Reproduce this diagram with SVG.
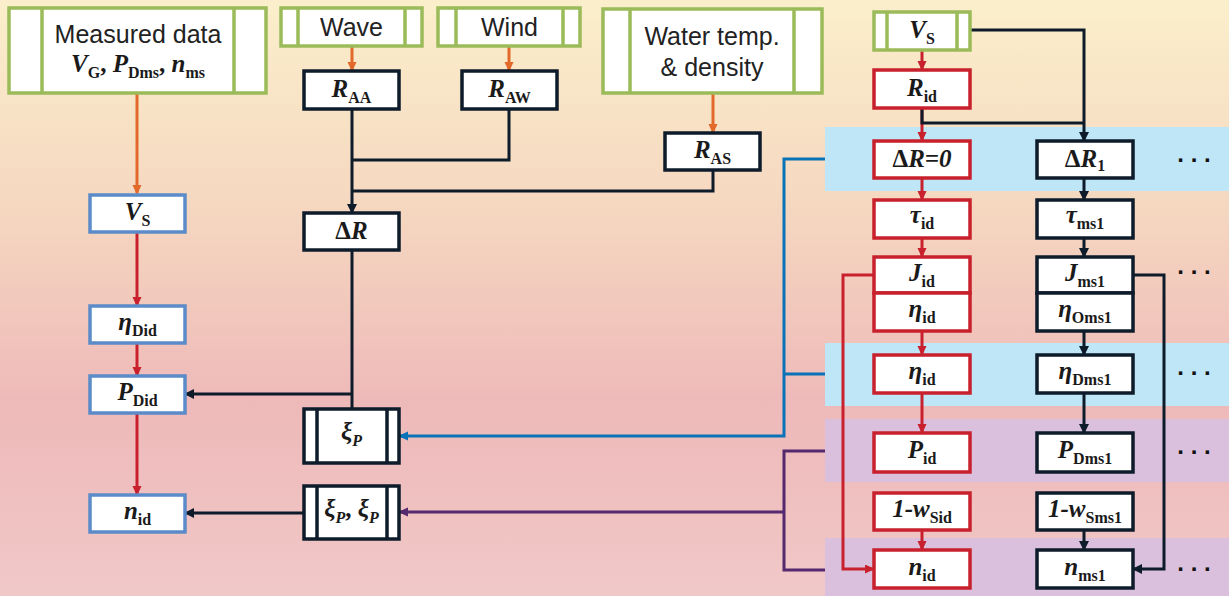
<svg xmlns="http://www.w3.org/2000/svg" width="1229" height="596" viewBox="0 0 1229 596">
<defs>
<linearGradient id="bg" x1="0" y1="0" x2="0" y2="1">
<stop offset="0" stop-color="#FBEFCB"/>
<stop offset="0.35" stop-color="#F5D7C0"/>
<stop offset="0.68" stop-color="#EEB9B9"/>
<stop offset="1" stop-color="#F1C8C8"/>
</linearGradient>
<marker id="aO" markerUnits="userSpaceOnUse" markerWidth="12" markerHeight="12" refX="8" refY="4.5" orient="auto"><path d="M0,0 L10,4.5 L0,9 z" fill="#E3692A"/></marker>
<marker id="aR" markerUnits="userSpaceOnUse" markerWidth="12" markerHeight="12" refX="8" refY="4.5" orient="auto"><path d="M0,0 L10,4.5 L0,9 z" fill="#C8202C"/></marker>
<marker id="aD" markerUnits="userSpaceOnUse" markerWidth="12" markerHeight="12" refX="8" refY="5" orient="auto"><path d="M0,0 L10,5 L0,10 z" fill="#0D1B2A"/></marker>
<marker id="aB" markerUnits="userSpaceOnUse" markerWidth="12" markerHeight="12" refX="8" refY="4.5" orient="auto"><path d="M0,0 L10,4.5 L0,9 z" fill="#0A72B6"/></marker>
<marker id="aP" markerUnits="userSpaceOnUse" markerWidth="12" markerHeight="12" refX="8" refY="4.5" orient="auto"><path d="M0,0 L10,4.5 L0,9 z" fill="#55296E"/></marker>
</defs>
<style>
.g{fill:#fff;stroke:#9BBB59;stroke-width:3.5}
.gl{stroke:#9BBB59;stroke-width:3.5}
.b{fill:#fff;stroke:#5B8BC8;stroke-width:3.5}
.r{fill:#fff;stroke:#C8202C;stroke-width:3.5}
.d{fill:#fff;stroke:#0D1B2A;stroke-width:3.5}
.dl{stroke:#0D1B2A;stroke-width:3.5}
.s{font-family:"Liberation Sans",Arial,sans-serif;font-size:25px;fill:#222;text-anchor:middle}
.m{font-family:"Liberation Serif","Times New Roman",serif;font-size:25px;font-weight:bold;fill:#1a1a1a;text-anchor:middle}
.i{font-style:italic}
.dots{font-family:"Liberation Sans",Arial,sans-serif;font-size:24px;font-weight:bold;fill:#111;text-anchor:middle}
.c{fill:none;stroke-width:3}
.co{stroke:#E3692A}
.cr{stroke:#C8202C}
.cd{stroke:#0D1B2A}
.cb{stroke:#0A72B6}
.cp{stroke:#55296E}
</style>
<rect x="0" y="0" width="1229" height="596" fill="url(#bg)"/>
<g id="bands">
<rect x="825" y="127" width="404" height="64" fill="#BEE6F7"/>
<rect x="825" y="343" width="404" height="63" fill="#BEE6F7"/>
<rect x="825" y="419" width="404" height="63" fill="#DAC0DC"/>
<rect x="825" y="538" width="404" height="58" fill="#DAC0DC"/>
</g>
<g id="connectors">
<path class="c co" d="M137,93 V193" marker-end="url(#aO)"/>
<path class="c co" d="M352,46 V70" marker-end="url(#aO)"/>
<path class="c co" d="M509,46 V70" marker-end="url(#aO)"/>
<path class="c co" d="M713,93 V132" marker-end="url(#aO)"/>
<path class="c cd" d="M352,109 V212" marker-end="url(#aD)"/>
<path class="c cd" d="M509,109 V160 H352"/>
<path class="c cd" d="M713,170 V191 H352"/>
<path class="c cd" d="M352,250 V409"/>
<path class="c cd" d="M352,394 H186" marker-end="url(#aD)"/>
<path class="c cd" d="M304,513 H186" marker-end="url(#aD)"/>
<path class="c cr" d="M137,232 V305" marker-end="url(#aR)"/>
<path class="c cr" d="M137,343 V375" marker-end="url(#aR)"/>
<path class="c cr" d="M137,413 V494" marker-end="url(#aR)"/>
<path class="c cb" d="M825,159 H784 V436 H400" marker-end="url(#aB)"/>
<path class="c cb" d="M825,374 H784"/>
<path class="c cp" d="M825,451 H784 V570 H825"/>
<path class="c cp" d="M784,512 H400" marker-end="url(#aP)"/>
<path class="c cr" d="M922,50 V69" marker-end="url(#aR)"/>
<path class="c cr" d="M922,108 V140" marker-end="url(#aR)"/>
<path class="c cr" d="M922,178 V199" marker-end="url(#aR)"/>
<path class="c cr" d="M922,238 V256" marker-end="url(#aR)"/>
<path class="c cr" d="M922,331 V354" marker-end="url(#aR)"/>
<path class="c cr" d="M922,393 V432" marker-end="url(#aR)"/>
<path class="c cr" d="M922,530 V549" marker-end="url(#aR)"/>
<path class="c cr" d="M874,275 H843 V569 H873" marker-end="url(#aR)"/>
<path class="c cd" d="M970,30 H1084 V140" marker-end="url(#aD)"/>
<path class="c cd" d="M922,108 V123 H1084"/>
<path class="c cd" d="M1084,178 V199" marker-end="url(#aD)"/>
<path class="c cd" d="M1084,238 V256" marker-end="url(#aD)"/>
<path class="c cd" d="M1084,331 V354" marker-end="url(#aD)"/>
<path class="c cd" d="M1084,393 V432" marker-end="url(#aD)"/>
<path class="c cd" d="M1084,530 V549" marker-end="url(#aD)"/>
<path class="c cd" d="M1133,275 H1164 V569 H1134" marker-end="url(#aD)"/>
</g>
<g id="measured">
<rect class="g" x="9" y="8" width="257" height="85"/>
<line class="gl" x1="42" y1="8" x2="42" y2="93"/><line class="gl" x1="234" y1="8" x2="234" y2="93"/>
<text class="s" x="138" y="43">Measured data</text>
<text class="m" x="138" y="72"><tspan class="i">V</tspan><tspan font-size="16" dy="6">G</tspan><tspan dy="-6">, </tspan><tspan class="i">P</tspan><tspan font-size="16" dy="6">Dms</tspan><tspan dy="-6">, </tspan><tspan class="i">n</tspan><tspan font-size="16" dy="6">ms</tspan></text>
</g>
<g id="wave">
<rect class="g" x="281" y="8" width="141" height="38"/>
<line class="gl" x1="298" y1="8" x2="298" y2="46"/><line class="gl" x1="405" y1="8" x2="405" y2="46"/>
<text class="s" x="351.5" y="36">Wave</text>
</g>
<g id="wind">
<rect class="g" x="438" y="8" width="142" height="38"/>
<line class="gl" x1="456" y1="8" x2="456" y2="46"/><line class="gl" x1="563" y1="8" x2="563" y2="46"/>
<text class="s" x="509.5" y="36">Wind</text>
</g>
<g id="water">
<rect class="g" x="603" y="9" width="219" height="84"/>
<line class="gl" x1="630" y1="9" x2="630" y2="93"/><line class="gl" x1="794" y1="9" x2="794" y2="93"/>
<text class="s" x="712" y="45">Water temp.</text>
<text class="s" x="712" y="76">&amp; density</text>
</g>
<g id="raa"><rect class="d" x="304" y="71" width="95" height="38"/>
<text class="m" x="351.5" y="97"><tspan class="i">R</tspan><tspan font-size="16" dy="6">AA</tspan></text></g>
<g id="raw"><rect class="d" x="462" y="71" width="95" height="38"/>
<text class="m" x="509.5" y="97"><tspan class="i">R</tspan><tspan font-size="16" dy="6">AW</tspan></text></g>
<g id="ras"><rect class="d" x="665" y="133" width="95" height="37"/>
<text class="m" x="712.5" y="158"><tspan class="i">R</tspan><tspan font-size="16" dy="6">AS</tspan></text></g>
<g id="dr"><rect class="d" x="304" y="213" width="95" height="37"/>
<text class="m" x="351.5" y="239">Δ<tspan class="i">R</tspan></text></g>
<g id="vs-left"><rect class="b" x="90" y="195" width="95" height="37"/>
<text class="m" x="137.5" y="220"><tspan class="i">V</tspan><tspan font-size="16" dy="6">S</tspan></text></g>
<g id="etadid"><rect class="b" x="90" y="306" width="95" height="37"/>
<text class="m" x="137.5" y="330"><tspan class="i">η</tspan><tspan font-size="16" dy="6">Did</tspan></text></g>
<g id="pdid"><rect class="b" x="90" y="376" width="95" height="37"/>
<text class="m" x="137.5" y="400"><tspan class="i">P</tspan><tspan font-size="16" dy="6">Did</tspan></text></g>
<g id="nid-left"><rect class="b" x="90" y="495" width="95" height="37"/>
<text class="m" x="137.5" y="519"><tspan class="i">n</tspan><tspan font-size="16" dy="6">id</tspan></text></g>
<g id="xip"><rect class="d" x="304" y="409" width="95" height="54"/>
<line class="dl" x1="317" y1="409" x2="317" y2="463"/><line class="dl" x1="387" y1="409" x2="387" y2="463"/>
<text class="m" x="351.5" y="440"><tspan class="i">ξ</tspan><tspan class="i" font-size="16" dy="6">P</tspan></text></g>
<g id="xip2"><rect class="d" x="304" y="486" width="95" height="53"/>
<line class="dl" x1="317" y1="486" x2="317" y2="539"/><line class="dl" x1="387" y1="486" x2="387" y2="539"/>
<text class="m" x="351.5" y="517"><tspan class="i">ξ</tspan><tspan class="i" font-size="16" dy="6">P</tspan><tspan dy="-6">, </tspan><tspan class="i">ξ</tspan><tspan class="i" font-size="16" dy="6">P</tspan></text></g>
<g id="vs-right"><rect class="g" x="874" y="12" width="96" height="38"/>
<line class="gl" x1="887" y1="12" x2="887" y2="50"/><line class="gl" x1="957" y1="12" x2="957" y2="50"/>
<text class="m" x="922" y="38"><tspan class="i">V</tspan><tspan font-size="16" dy="6">S</tspan></text></g>
<g id="rid"><rect class="r" x="874" y="70" width="96" height="38"/>
<text class="m" x="922" y="96"><tspan class="i">R</tspan><tspan font-size="16" dy="6">id</tspan></text></g>
<g id="dr0"><rect class="r" x="874" y="141" width="96" height="37"/>
<text class="m" x="922" y="167">Δ<tspan class="i">R=0</tspan></text></g>
<g id="tauid"><rect class="r" x="874" y="200" width="96" height="38"/>
<text class="m" x="922" y="223"><tspan class="i">τ</tspan><tspan font-size="16" dy="6">id</tspan></text></g>
<g id="jid"><rect class="r" x="874" y="257" width="96" height="36"/>
<text class="m" x="922" y="281"><tspan class="i">J</tspan><tspan font-size="16" dy="6">id</tspan></text></g>
<g id="etaid1"><rect class="r" x="874" y="293" width="96" height="38"/>
<text class="m" x="922" y="317"><tspan class="i">η</tspan><tspan font-size="16" dy="6">id</tspan></text></g>
<g id="etaid2"><rect class="r" x="874" y="355" width="96" height="38"/>
<text class="m" x="922" y="379"><tspan class="i">η</tspan><tspan font-size="16" dy="6">id</tspan></text></g>
<g id="pid"><rect class="r" x="874" y="433" width="96" height="39"/>
<text class="m" x="922" y="458"><tspan class="i">P</tspan><tspan font-size="16" dy="6">id</tspan></text></g>
<g id="wsid"><rect class="r" x="874" y="493" width="96" height="37"/>
<text class="m" x="922" y="517"><tspan class="i">1-w</tspan><tspan font-size="16" dy="6">Sid</tspan></text></g>
<g id="nid-right"><rect class="r" x="874" y="550" width="96" height="38"/>
<text class="m" x="922" y="575"><tspan class="i">n</tspan><tspan font-size="16" dy="6">id</tspan></text></g>
<g id="dr1"><rect class="d" x="1037" y="141" width="96" height="37"/>
<text class="m" x="1085" y="167">Δ<tspan class="i">R</tspan><tspan font-size="16" dy="4">1</tspan></text></g>
<g id="taums1"><rect class="d" x="1037" y="200" width="96" height="38"/>
<text class="m" x="1085" y="223"><tspan class="i">τ</tspan><tspan font-size="16" dy="6">ms1</tspan></text></g>
<g id="jms1"><rect class="d" x="1037" y="257" width="96" height="36"/>
<text class="m" x="1085" y="281"><tspan class="i">J</tspan><tspan font-size="16" dy="6">ms1</tspan></text></g>
<g id="etaoms1"><rect class="d" x="1037" y="293" width="96" height="38"/>
<text class="m" x="1085" y="317"><tspan class="i">η</tspan><tspan font-size="16" dy="6">Oms1</tspan></text></g>
<g id="etadms1"><rect class="d" x="1037" y="355" width="96" height="38"/>
<text class="m" x="1085" y="379"><tspan class="i">η</tspan><tspan font-size="16" dy="6">Dms1</tspan></text></g>
<g id="pdms1"><rect class="d" x="1037" y="433" width="96" height="39"/>
<text class="m" x="1085" y="458"><tspan class="i">P</tspan><tspan font-size="16" dy="6">Dms1</tspan></text></g>
<g id="wsms1"><rect class="d" x="1037" y="493" width="96" height="37"/>
<text class="m" x="1085" y="517"><tspan class="i">1-w</tspan><tspan font-size="16" dy="6">Sms1</tspan></text></g>
<g id="nms1"><rect class="d" x="1037" y="550" width="96" height="38"/>
<text class="m" x="1085" y="575"><tspan class="i">n</tspan><tspan font-size="16" dy="6">ms1</tspan></text></g>
<g id="ellipses">
<text class="dots" x="1194" y="162">. . .</text>
<text class="dots" x="1194" y="274">. . .</text>
<text class="dots" x="1194" y="375">. . .</text>
<text class="dots" x="1194" y="454">. . .</text>
<text class="dots" x="1194" y="571">. . .</text>
</g>
</svg>
